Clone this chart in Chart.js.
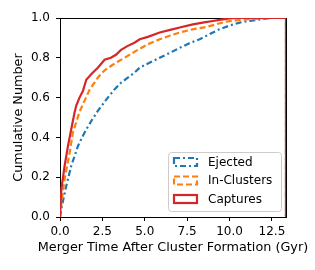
<!DOCTYPE html>
<html>
<head>
<meta charset="utf-8">
<script src="https://cdn.jsdelivr.net/npm/chart.js@4"></script>
<style>
  html, body { margin: 0; padding: 0; background: #fff; }
</style>
</head>
<body>
<canvas id="c" width="315" height="270"></canvas>
<script>

// cumulative distributions (time in Gyr, fraction)
const ejectedTime = [0, 0.08, 0.2, 0.37, 0.66, 1.06, 1.3, 1.55, 1.9, 2.23, 2.82, 3.2, 3.6, 4.0, 4.39, 4.7, 5.08, 5.88, 6.5, 7.06, 7.6, 8.24, 8.8, 9.4, 10.0, 10.6, 11.2, 11.8, 12.4, 13.33];
const ejectedFrac = [0, 0.04, 0.09, 0.156, 0.256, 0.357, 0.40, 0.44, 0.49, 0.533, 0.60, 0.64, 0.675, 0.70, 0.725, 0.75, 0.767, 0.80, 0.826, 0.85, 0.872, 0.893, 0.918, 0.943, 0.962, 0.977, 0.986, 0.993, 1.0, 1.0];

const inClusterTime = [0, 0.1, 0.27, 0.57, 0.76, 1.16, 1.45, 1.75, 2.23, 2.6, 3.02, 3.4, 3.8, 4.2, 4.59, 5.18, 5.88, 6.5, 7.06, 7.8, 8.63, 9.2, 9.8, 10.4, 11.0, 11.8, 12.4, 13.33];
const inClusterFrac = [0, 0.08, 0.19, 0.324, 0.424, 0.53, 0.585, 0.64, 0.70, 0.735, 0.76, 0.78, 0.80, 0.82, 0.84, 0.868, 0.893, 0.912, 0.927, 0.943, 0.955, 0.968, 0.982, 0.988, 0.993, 0.997, 1.0, 1.0];

const captureTime = [0, 0.08, 0.27, 0.47, 0.66, 0.86, 0.96, 1.15, 1.35, 1.55, 1.84, 2.23, 2.63, 3.0, 3.3, 3.6, 4.0, 4.39, 4.7, 5.18, 5.88, 6.5, 7.06, 7.84, 8.5, 9.02, 9.5, 10.0, 10.5, 13.33];
const captureFrac = [0, 0.14, 0.256, 0.357, 0.44, 0.525, 0.56, 0.60, 0.633, 0.69, 0.717, 0.75, 0.79, 0.80, 0.815, 0.84, 0.86, 0.876, 0.893, 0.905, 0.927, 0.94, 0.952, 0.968, 0.978, 0.985, 0.992, 0.998, 1.0, 1.0];

const lastEdge = 13.33;   // last histogram bin edge, step drops back to 0 here
const xTicks = [0, 2.5, 5.0, 7.5, 10.0, 12.5];
const yTicks = [0, 0.2, 0.4, 0.6, 0.8, 1.0];
const xTitle = 'Merger Time After Cluster Formation (Gyr)';

const FONT = 'DejaVu Sans';

function steps(times, fracs){
    let pts = [];
    for(let i=0; i<times.length; i++){
        pts.push({x: times[i], y: fracs[i]});
    }
    pts.push({x: lastEdge, y: 0});
    return pts;
}

// box around the axes, like matplotlib spines
const framePlugin = {
    id: 'frame',
    beforeDatasetsDraw(chart){
        const {ctx, chartArea: a} = chart;
        ctx.save();
        ctx.strokeStyle = '#000';
        ctx.lineWidth = 1;
        ctx.strokeRect(Math.round(a.left)+0.5, Math.round(a.top)+0.5, Math.round(a.right-a.left), Math.round(a.bottom-a.top));
        ctx.restore();
    },
    // x title is wider than the axes, chart.js would squeeze it, so draw it here
    afterDraw(chart){
        const {ctx, chartArea: a} = chart;
        ctx.save();
        ctx.fillStyle = '#000';
        ctx.font = '12.8px "' + FONT + '"';
        ctx.textAlign = 'center';
        ctx.textBaseline = 'middle';
        ctx.fillText(xTitle, (a.left + a.right)/2, 248);
        ctx.restore();
    }
};

// legend inside the lower right corner
const legendPlugin = {
    id: 'innerLegend',
    afterDraw(chart){
        const ctx = chart.ctx;
        const order = [0, 1, 2];
        const x0 = 168, y0 = 152, w = 113, h = 59;
        ctx.save();
        ctx.beginPath();
        ctx.roundRect(x0+0.5, y0+0.5, w, h, 3);
        ctx.fillStyle = 'rgba(255,255,255,0.8)';
        ctx.fill();
        ctx.strokeStyle = '#cccccc';
        ctx.lineWidth = 1;
        ctx.stroke();

        order.forEach((di, row) => {
            const ds = chart.data.datasets[di];
            const cy = 162 + row*18.5;
            ctx.setLineDash(ds.borderDash || []);
            ctx.strokeStyle = ds.borderColor;
            ctx.lineWidth = ds.borderWidth;
            ctx.strokeRect(174, cy-4, 23, 8);
            ctx.setLineDash([]);
            ctx.fillStyle = '#000';
            ctx.font = '12px "' + FONT + '"';
            ctx.textBaseline = 'middle';
            ctx.textAlign = 'left';
            ctx.fillText(ds.label, 208, cy+0.5);
        });
        ctx.restore();
    }
};

const tickFont = {family: FONT, size: 12};
const titleFont = {family: FONT, size: 12.8};

new Chart(document.getElementById('c'), {
    type: 'line',
    data: {
        datasets: [
            {label: 'Ejected', data: steps(ejectedTime, ejectedFrac), borderColor: '#1f77b4', borderWidth: 2.2, borderDash: [6, 3, 2, 3], order: 3},
            {label: 'In-Clusters', data: steps(inClusterTime, inClusterFrac), borderColor: '#ff7f0e', borderWidth: 2.2, borderDash: [6, 3], order: 2},
            {label: 'Captures', data: steps(captureTime, captureFrac), borderColor: '#d62728', borderWidth: 2.2, order: 1},
        ]
    },
    options: {
        responsive: false,
        animation: false,
        layout: {padding: {top: 18, right: 29, left: 6, bottom: 14}},
        elements: {point: {radius: 0}, line: {tension: 0, fill: false}},
        plugins: {legend: {display: false}, tooltip: {enabled: false}},
        scales: {
            x: {
                type: 'linear', min: 0, max: lastEdge,
                afterBuildTicks: axis => { axis.ticks = xTicks.map(v => ({value: v})); },
                ticks: {callback: v => v.toFixed(1), color: '#000', font: tickFont, padding: 4, maxRotation: 0},
                grid: {drawOnChartArea: false, tickLength: 4, tickColor: '#000'},
                border: {color: '#000'},
                afterFit: axis => { axis.height = 39; }
            },
            y: {
                type: 'linear', min: 0, max: 1,
                afterBuildTicks: axis => { axis.ticks = yTicks.map(v => ({value: v})); },
                ticks: {callback: v => v.toFixed(1), color: '#000', font: tickFont, padding: 6},
                grid: {drawOnChartArea: false, tickLength: 4, tickColor: '#000'},
                border: {color: '#000'},
                title: {display: true, text: 'Cumulative Number', color: '#000', font: titleFont, padding: {top: 5, bottom: 2}},
                afterFit: axis => { axis.width = 54; }
            }
        }
    },
    plugins: [framePlugin, legendPlugin]
});

</script>
</body>
</html>
